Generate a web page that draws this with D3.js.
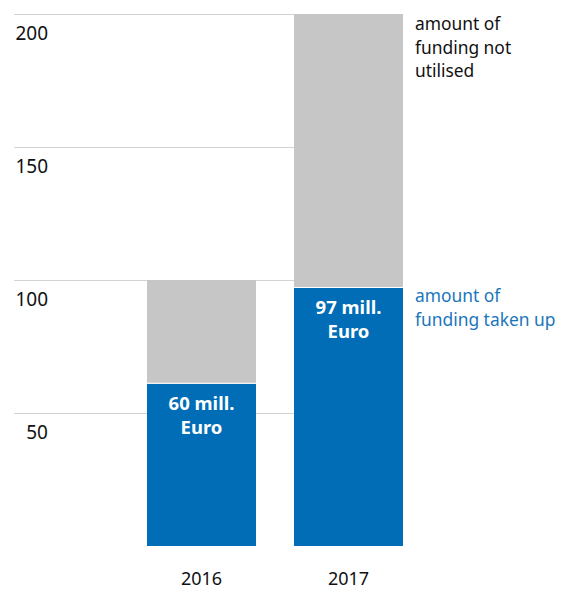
<!DOCTYPE html>
<html lang="en">
  <head>
    <script src="https://d3js.org/d3.v7.min.js"></script>
    <style>
      body {
        margin: 0;
        background: #fff;
        overflow: hidden;
      }
      svg {
        display: block;
      }
      text {
        font-family: "Noto Sans", sans-serif;
      }
      .gridlines line {
        stroke: #d2d2d2;
      }
      .gridlines .domain {
        stroke: none;
      }
    </style>
  </head>
  <body>
    <svg id="chart" width="570" height="590"></svg>
    <script>
      const years = ["2016", "2017"];
      const takenUp = [61, 97];
      const notUtilised = [39, 103];
      const tickValues = [50, 100, 150, 200];
      const barLabels = ["60 mill.", "97 mill."];
      const blueNote = ["amount of", "funding taken up"];
      const greyNote = ["amount of", "funding not", "utilised"];

      const blue = "#006db6";
      const grey = "#c6c6c6";

      const svg = d3.select("svg#chart");

      const yScale = d3.scaleLinear().domain([0, 200]).range([546, 14]);
      const xScale = d3
        .scaleBand()
        .domain(years)
        .range([147, 403])
        .paddingInner(0.2585)
        .paddingOuter(0);

      // gridlines
      svg
        .append("g")
        .attr("class", "gridlines")
        .attr("transform", "translate(14,0)")
        .call(
          d3.axisLeft(yScale).tickValues(tickValues).tickSize(-(403 - 14)).tickFormat("")
        );

      // tick labels sit under their lines
      svg
        .selectAll(".y-label")
        .data(tickValues)
        .enter()
        .append("text")
        .attr("class", "y-label")
        .attr("x", 48)
        .attr("y", (d) => yScale(d) + 26)
        .attr("text-anchor", "end")
        .style("font-size", "19px")
        .attr("fill", "#111")
        .text((d) => d);

      const rows = years.map((y, i) => ({
        year: y,
        takenUp: takenUp[i],
        notUtilised: notUtilised[i],
      }));
      const series = d3.stack().keys(["takenUp", "notUtilised"])(rows);
      const colors = { takenUp: blue, notUtilised: grey };

      series.forEach((s) => {
        svg
          .append("g")
          .selectAll("rect")
          .data(s)
          .enter()
          .append("rect")
          .attr("x", (d) => xScale(d.data.year))
          .attr("y", (d) => yScale(d[1]))
          .attr("width", xScale.bandwidth())
          .attr("height", (d) => yScale(d[0]) - yScale(d[1]))
          .attr("fill", colors[s.key]);
      });

      // thin white separator between the two parts
      svg
        .selectAll(".sep")
        .data(rows)
        .enter()
        .append("line")
        .attr("x1", (d) => xScale(d.year))
        .attr("x2", (d) => xScale(d.year) + xScale.bandwidth())
        .attr("y1", (d) => yScale(d.takenUp) - 0.5)
        .attr("y2", (d) => yScale(d.takenUp) - 0.5)
        .attr("stroke", "#fff")
        .attr("stroke-width", 1);

      // labels inside blue bars
      rows.forEach((d, i) => {
        const cx = xScale(d.year) + xScale.bandwidth() / 2;
        const top = yScale(d.takenUp);
        [barLabels[i], "Euro"].forEach((t, j) => {
          svg
            .append("text")
            .attr("x", cx)
            .attr("y", top + 26 + j * 24.5)
            .attr("text-anchor", "middle")
            .attr("fill", "#fff")
            .style("font-size", "18.5px")
            .style("font-weight", "bold")
            .text(t);
        });
      });

      // year labels
      svg
        .selectAll(".x-label")
        .data(years)
        .enter()
        .append("text")
        .attr("class", "x-label")
        .attr("x", (d) => xScale(d) + xScale.bandwidth() / 2)
        .attr("y", 585)
        .attr("text-anchor", "middle")
        .attr("fill", "#111")
        .style("font-size", "18px")
        .text((d) => d);

      // annotations at the right
      greyNote.forEach((t, j) => {
        svg
          .append("text")
          .attr("x", 415)
          .attr("y", 30 + j * 23.5)
          .attr("fill", "#111")
          .style("font-size", "17.4px")
          .text(t);
      });
      blueNote.forEach((t, j) => {
        svg
          .append("text")
          .attr("x", 415)
          .attr("y", 302 + j * 23.5)
          .attr("fill", "#1a76bb")
          .style("font-size", "17.4px")
          .text(t);
      });
    </script>
  </body>
</html>
